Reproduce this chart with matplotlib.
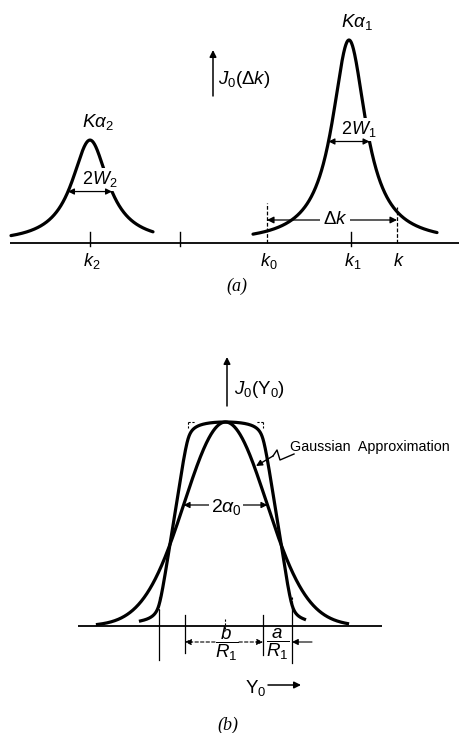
import numpy as np
import matplotlib
matplotlib.use('Agg')
import matplotlib.pyplot as plt

plt.rcParams['mathtext.fontset'] = 'custom'
plt.rcParams['mathtext.rm'] = 'Liberation Sans'
plt.rcParams['mathtext.it'] = 'Liberation Sans:italic'
plt.rcParams['mathtext.bf'] = 'Liberation Sans:bold'
plt.rcParams['font.family'] = ['Liberation Sans', 'DejaVu Sans']

# ---------------- panel (a) data ----------------
line_labels = [r'$K\alpha_2$', r'$K\alpha_1$']
line_centers = [90, 349]          # k position (diagram units)
line_heights = [0.507, 1.0]       # relative intensity
line_hwhm = [22, 20.5]            # half width W
line_spans = [(11, 153), (253, 437)]
width_labels = [r'$2W_2$', r'$2W_1$']
k_ticks = [90, 180, 267, 351, 397]
k_tick_labels = [r'$k_2$', '', r'$k_0$', r'$k_1$', r'$k$']
k0_pos, k_pos = 267, 397

# ---------------- panel (b) data ----------------
flat_top_half = 37.5      # half of b/R1
flat_ramp = 29.0          # a/R1
flat_smooth = 3.0         # Lorentzian smoothing width
flat_span = (-85, 79)
gauss_sigma = 41.0
gauss_span = (-128, 122)

LW = 2.3
fig = plt.figure(figsize=(4.6, 7.33), dpi=100)

# ---------- panel (a) ----------
ax = fig.add_axes([0, (733 - 300) / 733, 1, 300 / 733])
ax.set_xlim(0, 460)
ax.set_ylim((243 - 300) / 203, 243 / 203)
ax.axis('off')
ya = lambda py: (243 - py) / 203

ax.plot([10, 460], [0, 0], color='black', lw=1.3, solid_capstyle='butt')
for t, lab in zip(k_ticks, k_tick_labels):
    if t in (k0_pos, k_pos):
        continue
    ax.plot([t, t], [ya(232), ya(246)], color='black', lw=1.0)
for t, lab in zip(k_ticks, k_tick_labels):
    if lab:
        ax.text(t + 2, ya(261), lab, ha='center', va='center', fontsize=13)

for name, c, h, w, (x0, x1), wl in zip(line_labels, line_centers, line_heights,
                                       line_hwhm, line_spans, width_labels):
    x = np.linspace(x0, x1, 600)
    y = h / (1 + ((x - c) / w) ** 2)
    ax.plot(x, y, color='black', lw=LW, solid_capstyle='round', zorder=2)
    ax.annotate('', xy=(c - w, h / 2), xytext=(c + w, h / 2),
                arrowprops=dict(arrowstyle='<|-|>', color='black', lw=0.9,
                                mutation_scale=9, shrinkA=0, shrinkB=0), zorder=4)
    ax.text(c + 10, h / 2 + 0.06, wl, ha='center', va='center', fontsize=13,
            bbox=dict(boxstyle='square,pad=0.08', fc='white', ec='none'), zorder=3)
    ax.text(c + 8, h + 0.09, name, ha='center', va='center', fontsize=13.5)

# Delta k
ax.plot([k0_pos, k0_pos], [0, ya(203)], color='black', lw=0.9, ls=(0, (3, 1.5)))
ax.plot([k_pos, k_pos], [0, ya(207)], color='black', lw=0.9, ls=(0, (3, 1.5)))
ax.annotate('', xy=(k0_pos, ya(220)), xytext=(k_pos, ya(220)),
            arrowprops=dict(arrowstyle='<|-|>', color='black', lw=0.9,
                            mutation_scale=10, shrinkA=0, shrinkB=0), zorder=4)
ax.text(335, ya(220), r'$\Delta k$', ha='center', va='center', fontsize=13.5,
        bbox=dict(boxstyle='square,pad=0.15', fc='white', ec='none'), zorder=5)

# J0 arrow
ax.annotate('', xy=(213, ya(50)), xytext=(213, ya(96)),
            arrowprops=dict(arrowstyle='-|>', color='black', lw=1.1,
                            mutation_scale=10, shrinkA=0, shrinkB=0))
ax.text(218, ya(80), r'$J_0(\Delta k)$', ha='left', va='center', fontsize=13.5)
ax.text(237, ya(286), '(a)', ha='center', va='center', fontsize=13,
        family='Liberation Serif', style='italic')

# ---------- panel (b) ----------
bx = fig.add_axes([0, 0, 1, 403 / 733])
cx = 225.5
bx.set_xlim(-cx, 460 - cx)
bx.set_ylim((626 - 733) / 204, (626 - 330) / 204)
bx.axis('off')
yb = lambda py: (626 - py) / 204
xb = lambda px: px - cx

bx.plot([xb(78), xb(382)], [0, 0], color='black', lw=1.3, solid_capstyle='butt')

# flat-topped profile: trapezoid smoothed by a narrow Lorentzian
xs = np.linspace(-250, 250, 5001)
dx = xs[1] - xs[0]
bot = flat_top_half + flat_ramp
trap = np.clip((bot - np.abs(xs)) / flat_ramp, 0, 1)
kern = (flat_smooth / np.pi) / (xs ** 2 + flat_smooth ** 2) * dx
flat = np.convolve(trap, kern, mode='same')
flat /= flat.max()
m = (xs >= flat_span[0]) & (xs <= flat_span[1])
bx.plot(xs[m], flat[m], color='black', lw=LW, zorder=3)

xg = np.linspace(gauss_span[0], gauss_span[1], 800)
g = np.exp(-xg ** 2 / (2 * gauss_sigma ** 2))
bx.plot(xg, g, color='black', lw=LW, zorder=3)

# ideal trapezoid corner marks (dashed)
dash = dict(color='black', lw=0.8, ls=(0, (2, 1.5)))
for s in (-1, 1):
    bx.plot([s * flat_top_half, s * flat_top_half], [1, yb(428)], **dash)
    bx.plot([s * flat_top_half, s * (flat_top_half - 7)], [1, 1], **dash)
    bx.plot([s * bot, s * bot], [yb(597), yb(610)], **dash)
# center tick
bx.plot([0, 0], [yb(619), yb(631)], color='black', lw=0.8, ls=(0, (2, 1.5)))

# extension lines below baseline
bx.plot([-bot, -bot], [yb(610), yb(660)], color='black', lw=0.9)
bx.plot([-flat_top_half - 3, -flat_top_half - 3], [yb(615), yb(653)], color='black', lw=0.9)
bx.plot([flat_top_half, flat_top_half], [yb(615), yb(655)], color='black', lw=0.9)
bx.plot([bot, bot], [yb(608), yb(663)], color='black', lw=0.9)

yarr = yb(642)
gap = 12
bx.annotate('', xy=(-flat_top_half - 3, yarr), xytext=(xb(227) - gap, yarr),
            arrowprops=dict(arrowstyle='-|>', color='black', lw=0.8, ls=(0, (3, 2)),
                            mutation_scale=9, shrinkA=0, shrinkB=0))
bx.annotate('', xy=(flat_top_half, yarr), xytext=(xb(227) + gap, yarr),
            arrowprops=dict(arrowstyle='-|>', color='black', lw=0.8, ls=(0, (3, 2)),
                            mutation_scale=9, shrinkA=0, shrinkB=0))
bx.annotate('', xy=(bot, yarr), xytext=(bot + 20, yarr),
            arrowprops=dict(arrowstyle='-|>', color='black', lw=0.8,
                            mutation_scale=9, shrinkA=0, shrinkB=0))
bx.text(xb(227), yb(644), r'$\dfrac{b}{R_1}$', ha='center', va='center', fontsize=13.5,
        zorder=5)
bx.text(xb(278), yb(644), r'$\dfrac{a}{R_1}$', ha='center', va='center', fontsize=13.5,
        zorder=5)

# 2 alpha0
wg = gauss_sigma * np.sqrt(2 * np.log(1 / yb(505)))
bx.annotate('', xy=(-wg, yb(505)), xytext=(wg, yb(505)),
            arrowprops=dict(arrowstyle='<|-|>', color='black', lw=0.9,
                            mutation_scale=9, shrinkA=0, shrinkB=0), zorder=4)
bx.text(xb(226), yb(507), r'$2\alpha_0$', ha='center', va='center', fontsize=14,
        bbox=dict(boxstyle='square,pad=0.1', fc='white', ec='none'), zorder=5)

# J0 arrow
bx.annotate('', xy=(xb(227), yb(357)), xytext=(xb(227), yb(406)),
            arrowprops=dict(arrowstyle='-|>', color='black', lw=1.1,
                            mutation_scale=10, shrinkA=0, shrinkB=0))
bx.text(xb(234), yb(389), r'$J_0(\Upsilon_0)$', ha='left', va='center', fontsize=13.5)

# Gaussian label with zigzag leader
zx = [xb(p) for p in (273, 277, 280, 294)]
zy = [yb(p) for p in (456, 450, 460, 454)]
bx.plot(zx, zy, color='black', lw=1.0)
bx.annotate('', xy=(xb(256), yb(466)), xytext=(zx[0], zy[0]),
            arrowprops=dict(arrowstyle='-|>', color='black', lw=1.0,
                            mutation_scale=9, shrinkA=0, shrinkB=0))
bx.text(xb(290), yb(447), 'Gaussian  Approximation', ha='left', va='center', fontsize=10.3)

# Y0 axis label
bx.text(xb(256), yb(688), r'$\Upsilon_0$', ha='center', va='center', fontsize=13.5)
bx.annotate('', xy=(xb(301), yb(685)), xytext=(xb(268), yb(685)),
            arrowprops=dict(arrowstyle='-|>', color='black', lw=1.1,
                            mutation_scale=10, shrinkA=0, shrinkB=0))
bx.text(xb(228), yb(725), '(b)', ha='center', va='center', fontsize=13,
        family='Liberation Serif', style='italic')

fig.savefig('out.png', dpi=100, facecolor='white')
